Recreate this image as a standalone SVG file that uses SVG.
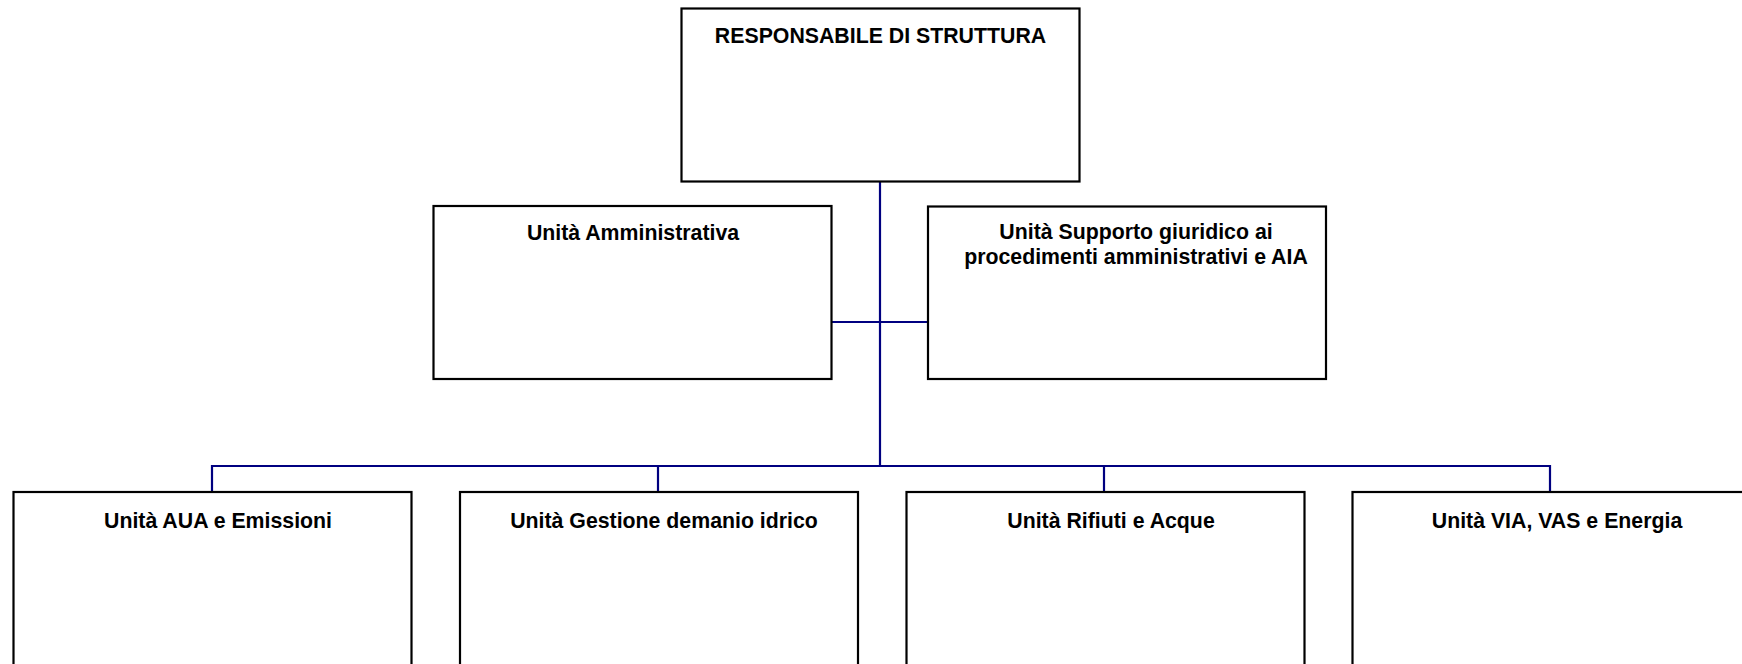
<svg xmlns="http://www.w3.org/2000/svg" width="1742" height="664" viewBox="0 0 1742 664">
<style>
.box{fill:#ffffff;stroke:#000000;stroke-width:2.2}
.lbl{font-family:"Liberation Sans",Arial,sans-serif;font-weight:bold;font-size:21.3px;fill:#000000;text-anchor:middle}
.conn{fill:none;stroke:#000080;stroke-width:2.2}
</style>
<rect width="1742" height="664" fill="#ffffff"/>
<g id="connectors">
<path class="conn" d="M880 182 V466"/>
<path class="conn" d="M832 322 H928"/>
<path class="conn" d="M212 492 V466 H1550 V492"/>
<path class="conn" d="M658 466 V492"/>
<path class="conn" d="M1104 466 V492"/>
</g>
<g id="n-responsabile">
<rect class="box" x="681.5" y="8.5" width="398" height="173"/>
<text class="lbl" x="880.5" y="43">RESPONSABILE DI STRUTTURA</text>
</g>
<g id="n-amministrativa">
<rect class="box" x="433.5" y="206" width="398" height="173"/>
<text class="lbl" x="633" y="240">Unità Amministrativa</text>
</g>
<g id="n-supporto">
<rect class="box" x="928" y="206.5" width="398" height="172.5"/>
<text class="lbl" x="1136" y="238.5">Unità Supporto giuridico ai</text>
<text class="lbl" x="1136" y="263.5">procedimenti amministrativi e AIA</text>
</g>
<g id="n-aua">
<rect class="box" x="13.5" y="492" width="398" height="200"/>
<text class="lbl" x="218" y="527.5">Unità AUA e Emissioni</text>
</g>
<g id="n-demanio">
<rect class="box" x="460" y="492" width="398" height="200"/>
<text class="lbl" x="664" y="527.5">Unità Gestione demanio idrico</text>
</g>
<g id="n-rifiuti">
<rect class="box" x="906.5" y="492" width="398" height="200"/>
<text class="lbl" x="1111" y="527.5">Unità Rifiuti e Acque</text>
</g>
<g id="n-via">
<rect class="box" x="1352.5" y="492" width="398" height="200"/>
<text class="lbl" x="1557" y="527.5">Unità VIA, VAS e Energia</text>
</g>
</svg>
